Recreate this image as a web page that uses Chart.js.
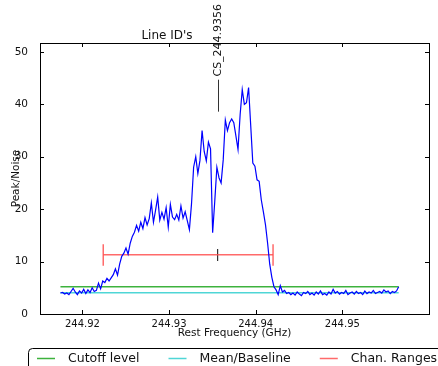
<!DOCTYPE html>
<html>
<head>
<meta charset="utf-8">
<script src="https://cdn.jsdelivr.net/npm/chart.js@4"></script>
<style>
  html, body { margin: 0; padding: 0; background: #fff; }
  #wrap { width: 438px; height: 366px; }
</style>
</head>
<body>
<div id="wrap"><canvas id="chart" width="438" height="366"></canvas></div>
<script>
// Spectrum, one value per channel (peak / noise)
const freqStart = 244.91746;   // GHz, first channel
const chanWidth = 0.000244;    // GHz
const peakNoise = [
    4.0, 4.1, 3.8, 4.0, 3.7, 4.3, 4.9, 4.2, 3.7, 4.4, 4.0, 4.7, 3.9, 4.6, 4.1, 5.0, 4.3, 4.5,
    5.9, 4.8, 6.3, 6.0, 6.8, 6.3, 6.9, 7.5, 8.6, 7.4, 9.5, 11.0,
    11.6, 12.6, 11.4, 13.5, 14.8, 15.6, 16.9, 15.8, 17.5, 16.3, 18.4, 17.0,
    18.2, 21.2, 17.5, 19.8, 22.3, 17.9, 19.4, 18.1, 20.3, 16.6, 20.9, 18.5,
    18.0, 19.0, 17.9, 20.6, 18.3, 19.5, 17.8, 16.1,
    21.0, 28.0, 30.0, 26.8, 29.3, 35.0, 31.0, 29.2, 32.8, 31.5,
    15.5, 21.5, 28.0, 26.0, 25.0, 29.4, 37.0, 35.0, 36.5, 37.2, 36.5, 34.0, 31.4,
    38.0, 42.8, 40.0, 40.3, 43.2, 36.0, 28.8, 28.2, 25.6, 25.3, 21.8, 19.5, 17.0, 13.5, 9.5, 7.0,
    5.2, 4.6, 3.7, 5.4,
    4.2, 4.5, 3.9, 4.1, 3.7, 4.0, 3.6, 4.2, 3.8, 3.5, 4.1, 3.9, 4.3, 3.7, 4.0, 3.6,
    4.2, 3.8, 4.4, 3.7, 3.9, 3.6, 4.2, 3.8, 4.7, 4.0, 4.3, 3.8, 4.1, 3.9, 4.5, 3.7,
    4.0, 4.2, 3.8, 4.3, 3.9, 4.1, 3.7, 4.4, 3.9, 4.2, 4.0, 4.5, 3.9, 4.1, 4.3, 4.0,
    4.6, 4.2, 4.4, 3.9, 4.3, 4.1, 4.4, 5.2,
];
const cutoffLevel = 5.2;
const meanBaseline = 4.07;
const chanRange = [244.9224, 244.9420];
const rangeLevel = 11.3;
const lineIdFreq = 244.9356;
const lineIdName = 'CS_244.9356';
const xTicks = [244.92, 244.93, 244.94, 244.95];
const yTicks = [0, 10, 20, 30, 40, 50];

const FONT = 'DejaVu Sans';
const TXT = '#111';

const freqs = peakNoise.map((_, i) => freqStart + i * chanWidth);
const fLo = freqs[0];
const fHi = freqs[freqs.length - 1];

const pts = (xs, ys) => xs.map((x, i) => ({ x, y: ys[i] }));

// inside ticks, frame, title, line id marker and the boxed legend
const decorations = {
    id: 'decorations',
    afterDraw(chart) {
        const { ctx, chartArea: a, scales: { x, y } } = chart;
        ctx.save();
        ctx.strokeStyle = '#000';
        ctx.lineWidth = 1;
        ctx.strokeRect(a.left + 0.5, a.top + 0.5, a.right - a.left, a.bottom - a.top);

        ctx.beginPath();
        for (const v of xTicks) {
            const px = Math.round(x.getPixelForValue(v)) + 0.5;
            ctx.moveTo(px, a.bottom); ctx.lineTo(px, a.bottom - 4);
            ctx.moveTo(px, a.top); ctx.lineTo(px, a.top + 4);
        }
        for (const v of yTicks) {
            const py = Math.round(y.getPixelForValue(v)) + 0.5;
            ctx.moveTo(a.left, py); ctx.lineTo(a.left + 4, py);
            ctx.moveTo(a.right, py); ctx.lineTo(a.right - 4, py);
        }
        ctx.stroke();

        // title
        ctx.fillStyle = TXT;
        ctx.font = `12px "${FONT}"`;
        ctx.textAlign = 'center';
        ctx.textBaseline = 'alphabetic';
        ctx.fillText("Line ID's", 167, 39);

        // line id marker
        const lx = Math.round(x.getPixelForValue(lineIdFreq)) + 0.5;
        ctx.strokeStyle = '#333';
        ctx.beginPath();
        ctx.moveTo(lx, y.getPixelForValue(38.6));
        ctx.lineTo(lx, y.getPixelForValue(44.7));
        ctx.stroke();
        ctx.save();
        ctx.translate(lx, y.getPixelForValue(45.3));
        ctx.rotate(-Math.PI / 2);
        ctx.font = `11px "${FONT}"`;
        ctx.textAlign = 'left';
        ctx.textBaseline = 'middle';
        ctx.fillText(lineIdName, 0, 0);
        ctx.restore();

        // legend
        const items = chart.data.datasets.filter(d => d.inLegend);
        const bx = 28.5, by = 348.5;
        ctx.fillStyle = '#fff';
        ctx.strokeStyle = '#000';
        ctx.beginPath();
        ctx.roundRect(bx, by, 430, 40, 4);
        ctx.fill();
        ctx.stroke();
        ctx.font = `12.5px "${FONT}"`;
        ctx.textAlign = 'left';
        ctx.textBaseline = 'middle';
        let cx = 37;
        const ly = 358.5;
        for (const d of items) {
            ctx.strokeStyle = d.borderColor;
            ctx.lineWidth = 1.5;
            ctx.beginPath();
            ctx.moveTo(cx, ly); ctx.lineTo(cx + 18, ly);
            ctx.stroke();
            ctx.fillStyle = TXT;
            ctx.fillText(d.label, cx + 31, ly);
            cx += 31 + ctx.measureText(d.label).width + 29;
        }
        ctx.restore();
    },
};

const flat = { pointRadius: 0, fill: false, tension: 0 };

new Chart(document.getElementById('chart'), {
    type: 'line',
    data: {
        datasets: [
            { label: 'Spectrum', data: pts(freqs, peakNoise), borderColor: '#0000ff', borderWidth: 1.2, ...flat },
            { label: 'Cutoff level', inLegend: true, data: pts([fLo, fHi], [cutoffLevel, cutoffLevel]), borderColor: 'rgba(40,170,40,0.9)', borderWidth: 1.3, ...flat },
            { label: 'Mean/Baseline', inLegend: true, data: pts([fLo, fHi], [meanBaseline, meanBaseline]), borderColor: 'rgba(60,210,210,0.9)', borderWidth: 1.5, ...flat },
            { label: 'Chan. Ranges', inLegend: true, data: pts(chanRange, [rangeLevel, rangeLevel]), borderColor: 'rgba(255,80,80,0.85)', borderWidth: 1.5, ...flat },
            { label: 'cap lo', data: pts([chanRange[0], chanRange[0]], [9.2, 13.3]), borderColor: 'rgba(255,80,80,0.85)', borderWidth: 1.5, ...flat },
            { label: 'cap hi', data: pts([chanRange[1], chanRange[1]], [9.2, 13.3]), borderColor: 'rgba(255,80,80,0.85)', borderWidth: 1.5, ...flat },
            { label: 'center', data: pts([lineIdFreq, lineIdFreq], [10.1, 12.4]), borderColor: '#333', borderWidth: 1.2, ...flat },
        ],
    },
    options: {
        responsive: false,
        animation: false,
        devicePixelRatio: 1,
        layout: { padding: { top: 43, right: 9, left: 0, bottom: 0 } },
        plugins: { legend: { display: false }, tooltip: { enabled: false } },
        scales: {
            x: {
                type: 'linear',
                min: 244.9151,
                max: 244.96,
                grid: { display: false },
                border: { display: false },
                afterBuildTicks: s => { s.ticks = xTicks.map(v => ({ value: v })); },
                afterFit: s => { s.height = 52; },
                ticks: {
                    font: { family: FONT, size: 10 }, color: TXT, padding: -4, maxRotation: 0,
                    callback: v => v.toFixed(2),
                },
                title: {
                    display: true, text: 'Rest Frequency (GHz)', color: TXT,
                    font: { family: FONT, size: 10.5 }, padding: { top: 0, bottom: 26 },
                },
            },
            y: {
                min: 0,
                max: 51.7,
                grid: { display: false },
                border: { display: false },
                afterBuildTicks: s => { s.ticks = yTicks.map(v => ({ value: v })); },
                afterFit: s => { s.width = 40; },
                ticks: { font: { family: FONT, size: 10.5 }, color: TXT, padding: 4 },
                title: {
                    display: true, text: 'Peak/Noise', color: TXT,
                    font: { family: FONT, size: 10.5 }, padding: { top: 9.5, bottom: 0 },
                },
            },
        },
    },
    plugins: [decorations],
});
</script>
</body>
</html>
